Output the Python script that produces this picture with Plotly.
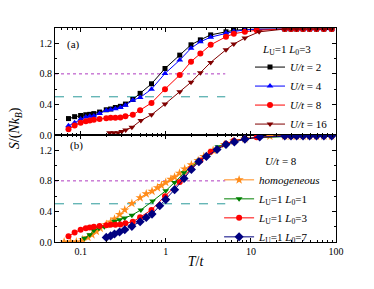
import numpy as np
import plotly.graph_objects as go

# ---------------- data ----------------
T_hi = [25, 29.6, 34.5, 41, 49, 59, 72, 89]
S_max = [1.386] * len(T_hi)

# panel (a): L_U=1, L_0=3
T_a = [0.072, 0.085, 0.1, 0.115, 0.128, 0.143, 0.167, 0.2, 0.225, 0.256, 0.293, 0.336,
       0.41, 0.5, 0.68, 0.98, 1.46, 1.98, 2.55, 3.37, 5.1, 6.3, 8.5, 11.7] + T_hi
S_U2 = [0.215, 0.24, 0.255, 0.265, 0.27, 0.28, 0.30, 0.33, 0.34, 0.36, 0.375, 0.405,
        0.465, 0.545, 0.67, 0.87, 1.045, 1.18, 1.245, 1.31, 1.35, 1.37, 1.38, 1.385] + S_max
S_U4 = [0.12, 0.16, 0.21, 0.235, 0.245, 0.25, 0.28, 0.32, 0.33, 0.345, 0.36, 0.39,
        0.455, 0.49, 0.60, 0.805, 0.98, 1.135, 1.22, 1.28, 1.335, 1.355, 1.375, 1.383] + S_max
S_U8 = [0.075, 0.125, 0.16, 0.18, 0.19, 0.2, 0.21, 0.22, 0.225, 0.225, 0.23, 0.245,
        0.265, 0.325, 0.42, 0.60, 0.785, 0.96, 1.065, 1.18, 1.285, 1.325, 1.35, 1.37] + S_max
T_U16 = [0.219, 0.245, 0.275, 0.304, 0.338, 0.40, 0.51, 0.68, 0.98, 1.46, 1.98, 2.55,
         3.37, 5.1, 6.3, 8.5, 12.5] + T_hi
S_U16 = [0.03, 0.03, 0.03, 0.045, 0.065, 0.10, 0.19, 0.265, 0.405, 0.565, 0.69, 0.815,
         0.95, 1.115, 1.19, 1.27, 1.35] + S_max

# panel (b): U/t = 8
T_hom = [0.064, 0.076, 0.089, 0.106, 0.122, 0.136, 0.153, 0.17, 0.2, 0.225, 0.25, 0.287,
         0.33, 0.40, 0.5, 0.59, 0.69, 0.8, 0.89, 1.0, 1.15, 1.27, 1.45, 1.67, 2.0, 2.4,
         2.8, 3.6, 4.9, 6.3, 8.5, 16.7] + T_hi
S_hom = [0.0, 0.0, 0.0, 0.03, 0.06, 0.095, 0.14, 0.18, 0.23, 0.26, 0.30, 0.36,
         0.42, 0.505, 0.58, 0.63, 0.665, 0.71, 0.74, 0.78, 0.82, 0.85, 0.9, 0.955, 1.01, 1.065,
         1.12, 1.2, 1.275, 1.32, 1.35, 1.385] + S_max
T_L1 = [0.111, 0.128, 0.143, 0.164, 0.19, 0.219, 0.25, 0.287, 0.329, 0.40, 0.51, 0.7,
        1.0, 1.27, 1.64, 2.5, 3.4, 4.1, 6.3, 8.5] + T_hi
S_L1 = [0.05, 0.095, 0.15, 0.18, 0.20, 0.225, 0.27, 0.29, 0.315, 0.35, 0.42, 0.535,
        0.67, 0.78, 0.905, 1.07, 1.17, 1.245, 1.32, 1.355] + S_max
T_L7 = [0.2, 0.225, 0.25, 0.287, 0.33, 0.40, 0.5, 0.59, 0.69, 0.85, 1.0, 1.27, 1.64,
        2.0, 2.45, 3.0, 4.0, 5.1, 6.4, 8.5, 12.7] + T_hi
S_L7 = [0.06, 0.08, 0.105, 0.13, 0.16, 0.205, 0.265, 0.32, 0.365, 0.475, 0.555, 0.685, 0.83,
        0.95, 1.05, 1.12, 1.21, 1.275, 1.31, 1.345, 1.375] + S_max

ref_T = [0.05, 5.0]
ref_dot = [0.8, 0.8]
ref_dash = [0.5, 0.5]

x_ticks = [0.1, 1, 10, 100]
x_ticktext = ["0.1", "1", "10", "100"]
y_ticks = [0.0, 0.4, 0.8, 1.2]

# ---------------- figure ----------------
FONT = "Liberation Serif, Times New Roman, serif"
fig = go.Figure()

def ser(x, y, name, color, symbol, size, xa, ya, legend):
    fig.add_trace(go.Scatter(
        x=x, y=y, name=name, mode="lines+markers",
        line=dict(color=color, width=1),
        marker=dict(symbol=symbol, size=size, color=color, line=dict(width=0)),
        xaxis=xa, yaxis=ya, legend=legend))

for xa, ya in [("x", "y"), ("x2", "y2")]:
    fig.add_trace(go.Scatter(x=ref_T, y=ref_dot, mode="lines", showlegend=False,
                             line=dict(color="#b03ac0", width=1, dash="dot"), xaxis=xa, yaxis=ya))
    fig.add_trace(go.Scatter(x=ref_T, y=ref_dash, mode="lines", showlegend=False,
                             line=dict(color="#2a9a9a", width=1, dash="dash"), xaxis=xa, yaxis=ya))

ser(T_a, S_U2, "<i>U/t</i> = 2", "black", "square", 5, "x", "y", "legend")
ser(T_a, S_U4, "<i>U/t</i> = 4", "#0000ff", "triangle-up", 6, "x", "y", "legend")
ser(T_a, S_U8, "<i>U/t</i> = 8", "#ff0000", "circle", 6, "x", "y", "legend")
ser(T_U16, S_U16, "<i>U/t</i> = 16", "#800000", "triangle-down", 6, "x", "y", "legend")

ser(T_hom, S_hom, "<i>homogeneous</i>", "#ff8c1a", "star", 7, "x2", "y2", "legend2")
ser(T_L1, S_L1, "<i>L</i><sub>U</sub>=1 <i>L</i><sub>0</sub>=1", "#008000", "triangle-down", 6, "x2", "y2", "legend2")
ser(T_a, S_U8, "<i>L</i><sub>U</sub>=1 <i>L</i><sub>0</sub>=3", "#ff0000", "circle", 6, "x2", "y2", "legend2")
ser(T_L7, S_L7, "<i>L</i><sub>U</sub>=1 <i>L</i><sub>0</sub>=7", "#000080", "diamond", 7, "x2", "y2", "legend2")

xcommon = dict(type="log", range=[np.log10(0.05), 2], tickvals=x_ticks, ticktext=x_ticktext,
               ticks="inside", ticklen=4, tickcolor="black", showline=True, linecolor="black",
               linewidth=1, mirror="allticks", showgrid=False, zeroline=False,
               minor=dict(ticks="inside", ticklen=2, tickcolor="black",
                          tickvals=[m * 10.0 ** e for e in range(-2, 2) for m in range(2, 10)]),
               tickfont=dict(family=FONT, size=10, color="black"))
ycommon = dict(range=[0, 1.4], tickvals=y_ticks, tickformat=".1f",
               ticks="inside", ticklen=4, tickcolor="black", showline=True, linecolor="black",
               linewidth=1, mirror="allticks", showgrid=False, zeroline=False,
               minor=dict(ticks="inside", ticklen=2, tickcolor="black", dtick=0.2),
               tickfont=dict(family=FONT, size=10, color="black"))

fig.update_layout(
    width=366, height=281,
    margin=dict(l=47, r=38, t=20, b=47),
    plot_bgcolor="white", paper_bgcolor="white",
    font=dict(family=FONT, color="black"),
    xaxis=dict(**xcommon, showticklabels=False, anchor="y"),
    yaxis=dict(**ycommon, domain=[0.5, 1], anchor="x"),
    xaxis2=dict(**xcommon, anchor="y2",
                title=dict(text="<i>T</i>/<i>t</i>", font=dict(family=FONT, size=14), standoff=0)),
    yaxis2=dict(**ycommon, domain=[0, 0.5], anchor="x2"),
    legend=dict(x=0.694, y=0.952, xanchor="left", yanchor="top", bgcolor="rgba(0,0,0,0)",
                font=dict(family=FONT, size=11), itemwidth=30, tracegroupgap=0,
                title=dict(text="    <i>L</i><sub>U</sub>=1 <i>L</i><sub>0</sub>=3",
                           font=dict(family=FONT, size=11))),
    legend2=dict(x=0.584, y=0.425, xanchor="left", yanchor="top", bgcolor="rgba(0,0,0,0)",
                 font=dict(family=FONT, size=11), itemwidth=30, tracegroupgap=0,
                 title=dict(text="                <i>U/t</i> = 8", font=dict(family=FONT, size=11))),
    annotations=[
        dict(text="(a)", x=0.036, y=0.962, xref="paper", yref="paper", showarrow=False,
             xanchor="left", font=dict(family=FONT, size=11)),
        dict(text="(b)", x=0.046, y=0.449, xref="paper", yref="paper", showarrow=False,
             xanchor="left", font=dict(family=FONT, size=11)),
        dict(text="<i>S</i>/(<i>Nk</i><sub><i>B</i></sub>)", x=-0.175, y=0.533,
             xref="paper", yref="paper", showarrow=False, textangle=-90,
             font=dict(family=FONT, size=14)),
    ],
)

fig.write_html("out.html")
